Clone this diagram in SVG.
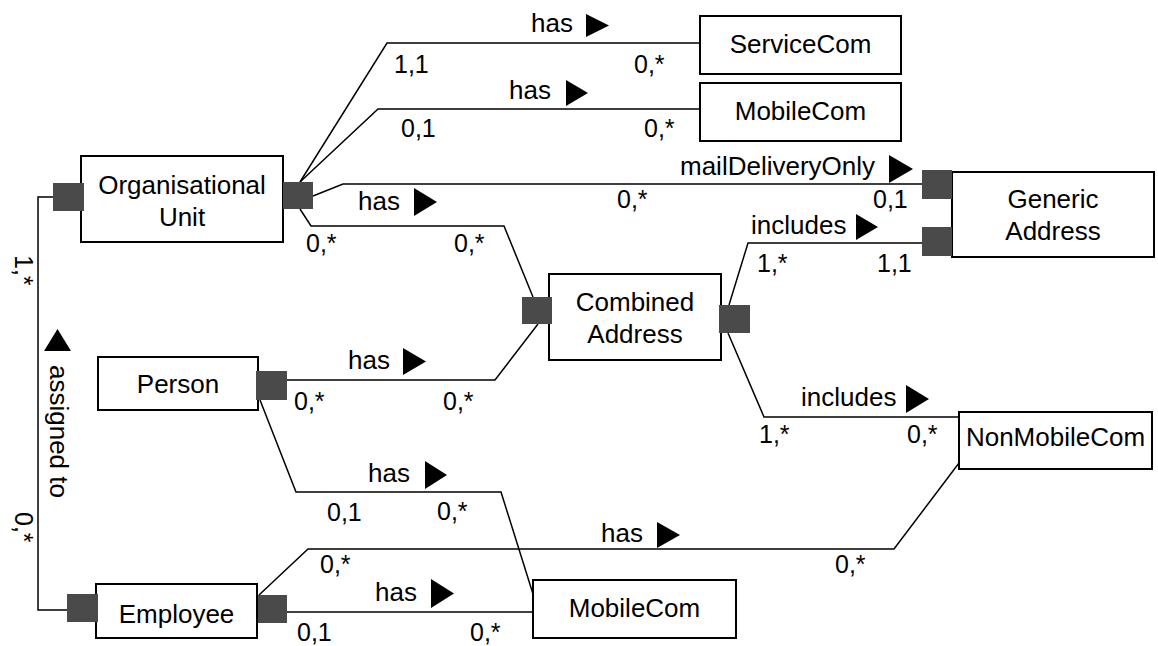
<svg xmlns="http://www.w3.org/2000/svg" width="1158" height="646" viewBox="0 0 1158 646">
  <style>
    .box { fill: #ffffff; stroke: #000000; stroke-width: 2; }
    .port { fill: #4a4a4a; }
    .conn { fill: none; stroke: #000000; stroke-width: 1.5; }
    .name { font-family: "Liberation Sans", Arial, sans-serif; font-size: 26px; fill: #000000; text-anchor: middle; }
    .lbl { font-family: "Liberation Sans", Arial, sans-serif; font-size: 26px; fill: #000000; }
    .mult { font-family: "Liberation Sans", Arial, sans-serif; font-size: 25px; fill: #000000; }
    .dir { fill: #000000; }
  </style>

  <!-- association lines -->
  <g id="connectors">
    <path class="conn" d="M300,182 L387,43 L700,43"/>
    <path class="conn" d="M300,182 L378,109 L700,109"/>
    <path class="conn" d="M313,196 L343,184 L922,184"/>
    <path class="conn" d="M300,209 L311,226 L504,226 L533,297"/>
    <path class="conn" d="M287,380 L495,380 L538,324"/>
    <path class="conn" d="M729,305 L748,243 L922,243"/>
    <path class="conn" d="M728,333 L764,417 L961,417"/>
    <path class="conn" d="M260,400 L296,492 L501,492 L533,594"/>
    <path class="conn" d="M259,595 L308,549 L894,549 L959,463"/>
    <path class="conn" d="M287,612 L533,612"/>
    <path class="conn" d="M53,197 L38,197 L38,610 L67,610"/>

    <!-- OrgUnit -> ServiceCom -->
    <text class="lbl" x="531" y="32">has</text>
    <polygon class="dir" points="586,14 609,25.5 586,37"/>
    <text class="mult" x="394" y="73">1,1</text>
    <text class="mult" x="634" y="73">0,*</text>

    <!-- OrgUnit -> MobileCom -->
    <text class="lbl" x="509" y="99">has</text>
    <polygon class="dir" points="566,80 588,93 566,106"/>
    <text class="mult" x="401" y="137">0,1</text>
    <text class="mult" x="644" y="137">0,*</text>

    <!-- OrgUnit -> Generic Address -->
    <text class="lbl" x="680" y="175">mailDeliveryOnly</text>
    <polygon class="dir" points="889,155 913,169 889,183"/>
    <text class="mult" x="617" y="208">0,*</text>
    <text class="mult" x="873" y="208">0,1</text>

    <!-- OrgUnit -> Combined Address -->
    <text class="lbl" x="358" y="210">has</text>
    <polygon class="dir" points="414,188 437,202 414,216"/>
    <text class="mult" x="306" y="252">0,*</text>
    <text class="mult" x="454" y="252">0,*</text>

    <!-- Combined Address -> Generic Address -->
    <text class="lbl" x="751" y="234">includes</text>
    <polygon class="dir" points="856,214 878,227 856,240"/>
    <text class="mult" x="757" y="272">1,*</text>
    <text class="mult" x="877" y="272">1,1</text>

    <!-- Person -> Combined Address -->
    <text class="lbl" x="348" y="369">has</text>
    <polygon class="dir" points="403,348 426,361.5 403,375"/>
    <text class="mult" x="294" y="410">0,*</text>
    <text class="mult" x="443" y="410">0,*</text>

    <!-- Combined Address -> NonMobileCom -->
    <text class="lbl" x="801" y="406">includes</text>
    <polygon class="dir" points="906,385 929,399 906,413"/>
    <text class="mult" x="759" y="443">1,*</text>
    <text class="mult" x="907" y="443">0,*</text>

    <!-- Person -> MobileCom -->
    <text class="lbl" x="368" y="482">has</text>
    <polygon class="dir" points="425,461 447,475 425,489"/>
    <text class="mult" x="327" y="521">0,1</text>
    <text class="mult" x="437" y="520">0,*</text>

    <!-- Employee -> NonMobileCom -->
    <text class="lbl" x="601" y="542">has</text>
    <polygon class="dir" points="657,522 680,535 657,548"/>
    <text class="mult" x="320" y="573">0,*</text>
    <text class="mult" x="835" y="573">0,*</text>

    <!-- Employee -> MobileCom -->
    <text class="lbl" x="375" y="601">has</text>
    <polygon class="dir" points="431,579 454,593.5 431,608"/>
    <text class="mult" x="297" y="641">0,1</text>
    <text class="mult" x="470" y="641">0,*</text>

    <!-- Employee assigned to OrgUnit -->
    <text class="mult" transform="translate(15,255) rotate(90)">1,*</text>
    <polygon class="dir" points="44,351 71,351 57.5,329"/>
    <text class="lbl" transform="translate(50,365) rotate(90)">assigned to</text>
    <text class="mult" transform="translate(15,512) rotate(90)">0,*</text>
  </g>

  <g id="service-com">
    <rect class="box" x="700" y="16" width="201" height="58"/>
    <text class="name" x="800.5" y="53">ServiceCom</text>
  </g>

  <g id="mobile-com-top">
    <rect class="box" x="700" y="83" width="201" height="58"/>
    <text class="name" x="800.5" y="120">MobileCom</text>
  </g>

  <g id="organisational-unit">
    <rect class="box" x="81" y="156" width="202" height="86"/>
    <text class="name" x="182" y="194">Organisational</text>
    <text class="name" x="182" y="226">Unit</text>
    <rect class="port" x="53" y="183" width="31" height="28"/>
    <rect class="port" x="283" y="182" width="30" height="27"/>
  </g>

  <g id="generic-address">
    <rect class="box" x="952" y="172" width="202" height="85"/>
    <text class="name" x="1053" y="208">Generic</text>
    <text class="name" x="1053" y="240">Address</text>
    <rect class="port" x="922" y="170" width="30" height="29"/>
    <rect class="port" x="922" y="227" width="30" height="29"/>
  </g>

  <g id="combined-address">
    <rect class="box" x="549" y="274" width="172" height="86"/>
    <text class="name" x="635" y="311">Combined</text>
    <text class="name" x="635" y="343">Address</text>
    <rect class="port" x="522" y="297" width="30" height="27"/>
    <rect class="port" x="719" y="305" width="31" height="28"/>
  </g>

  <g id="person">
    <rect class="box" x="98" y="357" width="160" height="53"/>
    <text class="name" x="178" y="393">Person</text>
    <rect class="port" x="256" y="371" width="31" height="29"/>
  </g>

  <g id="non-mobile-com">
    <rect class="box" x="959" y="412" width="193" height="57"/>
    <text class="name" x="1055.5" y="446">NonMobileCom</text>
  </g>

  <g id="employee">
    <rect class="box" x="96" y="584" width="161" height="54"/>
    <text class="name" x="176.5" y="623">Employee</text>
    <rect class="port" x="67" y="594" width="31" height="28"/>
    <rect class="port" x="258" y="595" width="29" height="28"/>
  </g>

  <g id="mobile-com-bottom">
    <rect class="box" x="533" y="580" width="203" height="58"/>
    <text class="name" x="634.5" y="617">MobileCom</text>
  </g>
</svg>
